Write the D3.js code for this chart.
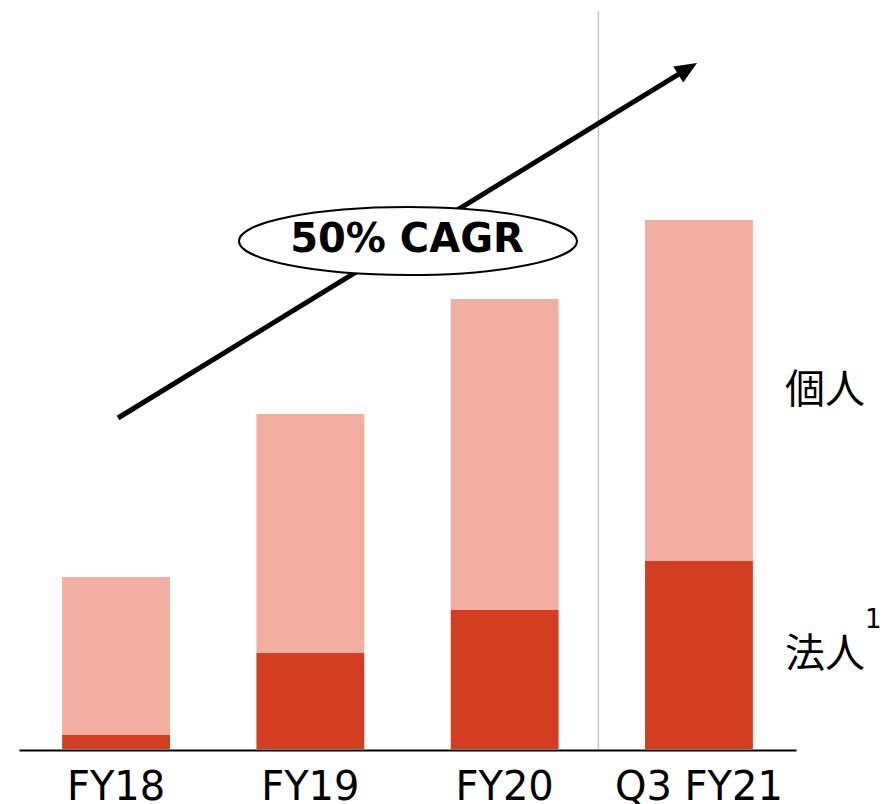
<!DOCTYPE html>
<html>
<head>
<meta charset="utf-8">
<script src="https://cdn.jsdelivr.net/npm/d3@7/dist/d3.min.js"></script>
<style>
  html, body { margin: 0; padding: 0; background: #fff; }
  svg { display: block; }
</style>
</head>
<body>
<svg id="chart" width="888" height="804"></svg>
<script>
// ---- data ----
const categories = ["FY18", "FY19", "FY20", "Q3 FY21"];
const corporate = [14, 96, 139, 188];      // 法人 (dark)
const individual = [158, 239, 311, 341];   // 個人 (light)
const seriesNames = ["法人", "個人"];
const cagrLabel = "50% CAGR";

// ---- layout ----
const W = 888, H = 804;
const baseY = 749, topY = 220;
const svg = d3.select("#chart");

const x = d3.scaleBand()
  .domain(categories)
  .range([19, 796])
  .paddingInner(0.445)
  .paddingOuter(0.222);

const totals = categories.map((c, i) => corporate[i] + individual[i]);
const y = d3.scaleLinear()
  .domain([0, d3.max(totals)])
  .range([baseY, topY]);

const colors = { "法人": "#D23E1F", "個人": "#F2AEA1" };

// stacked data
const rows = categories.map((c, i) => ({ cat: c, "法人": corporate[i], "個人": individual[i] }));
const stack = d3.stack().keys(seriesNames)(rows);

// separator line before Q3 FY21
const sepX = x("Q3 FY21") - 0.24 * x.step();
svg.append("line")
  .attr("x1", sepX).attr("x2", sepX)
  .attr("y1", 11).attr("y2", baseY)
  .attr("stroke", "#c8c8c8").attr("stroke-width", 1.5);

// bars
svg.append("g").selectAll("g")
  .data(stack)
  .join("g")
  .attr("fill", d => colors[d.key])
  .selectAll("rect")
  .data(d => d)
  .join("rect")
  .attr("x", d => x(d.data.cat))
  .attr("width", x.bandwidth())
  .attr("y", d => y(d[1]))
  .attr("height", d => y(d[0]) - y(d[1]));

// x axis
const axis = d3.axisBottom(x).tickSize(0).tickPadding(13);
const gx = svg.append("g")
  .attr("transform", `translate(0,${baseY + 1})`)
  .call(axis);
gx.select(".domain").attr("stroke", "#000").attr("stroke-width", 2.2);
gx.selectAll(".tick text")
  .attr("font-family", "'DejaVu Sans', sans-serif")
  .attr("font-size", 40)
  .attr("fill", "#000")
  .attr("dy", "0.92em");

// growth arrow
const start = [118, 418], tip = [697, 63];
const dx = tip[0] - start[0], dy = tip[1] - start[1];
const len = Math.hypot(dx, dy);
const ux = dx / len, uy = dy / len;
const headLen = 22, headHalf = 9.5;
const bx = tip[0] - ux * headLen, by = tip[1] - uy * headLen;
svg.append("line")
  .attr("x1", start[0]).attr("y1", start[1])
  .attr("x2", bx + ux * 2).attr("y2", by + uy * 2)
  .attr("stroke", "#000").attr("stroke-width", 5);
svg.append("polygon")
  .attr("points", [
    [tip[0], tip[1]],
    [bx - uy * headHalf, by + ux * headHalf],
    [bx + uy * headHalf, by - ux * headHalf]
  ].map(p => p.join(",")).join(" "))
  .attr("fill", "#000");

// CAGR ellipse
svg.append("ellipse")
  .attr("cx", 408).attr("cy", 241)
  .attr("rx", 169).attr("ry", 34)
  .attr("fill", "#fff").attr("stroke", "#000").attr("stroke-width", 2);
svg.append("text")
  .attr("x", 407).attr("y", 252)
  .attr("text-anchor", "middle")
  .attr("font-family", "'DejaVu Sans', sans-serif")
  .attr("font-weight", "bold")
  .attr("font-size", 40)
  .text(cagrLabel);

// series labels
const labelFont = "'Noto Sans CJK JP', sans-serif";
const lastRow = rows[rows.length - 1];
svg.append("text")
  .attr("x", 785)
  .attr("y", y(lastRow["法人"] + lastRow["個人"] * 0.5) - 5)
  .attr("dominant-baseline", "central")
  .attr("font-family", labelFont)
  .attr("font-size", 40)
  .text(seriesNames[1]);
svg.append("text")
  .attr("x", 785)
  .attr("y", 650)
  .attr("dominant-baseline", "central")
  .attr("font-family", labelFont)
  .attr("font-size", 40)
  .text(seriesNames[0]);
svg.append("text")
  .attr("x", 865).attr("y", 628)
  .attr("font-family", "'DejaVu Sans', sans-serif")
  .attr("font-size", 26)
  .text("1");
</script>
</body>
</html>
